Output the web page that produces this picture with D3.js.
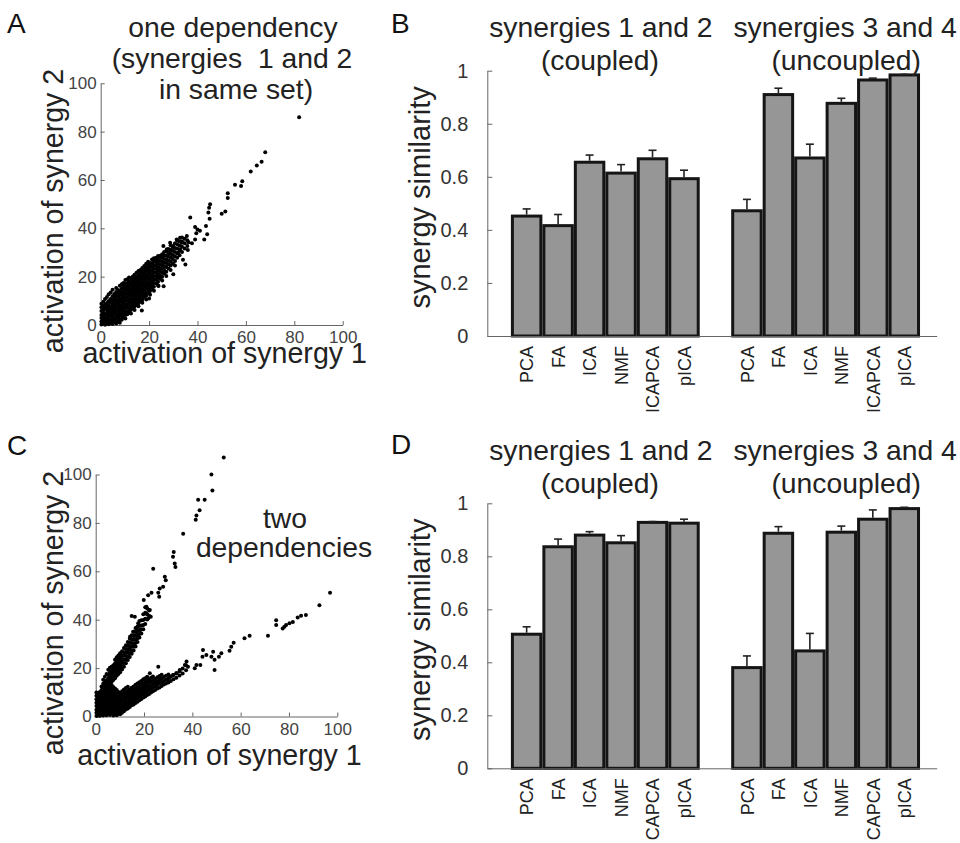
<!DOCTYPE html>
<html>
<head>
<meta charset="utf-8">
<script src="https://cdn.jsdelivr.net/npm/d3@7"></script>
<style>
  body { margin: 0; background: #fff; }
  text { font-family: "Liberation Sans", Arial, Helvetica, sans-serif; }
</style>
</head>
<body>
<svg width="960" height="843"></svg>
<script>
// ---- data ----
const activationTicks = [0, 20, 40, 60, 80, 100];
const similarityTicks = [0, 0.2, 0.4, 0.6, 0.8, 1];

const methodsB = ["PCA", "FA", "ICA", "NMF", "ICAPCA", "pICA", "PCA", "FA", "ICA", "NMF", "ICAPCA", "pICA"];
const methodsD = ["PCA", "FA", "ICA", "NMF", "CAPCA", "pICA", "PCA", "FA", "ICA", "NMF", "CAPCA", "pICA"];
const barSlots = [1, 2, 3, 4, 5, 6, 8, 9, 10, 11, 12, 13];

// panel B: one dependency
const similarityB = [0.452, 0.416, 0.655, 0.614, 0.668, 0.593, 0.472, 0.910, 0.671, 0.877, 0.965, 0.984];
const errorB      = [0.027, 0.042, 0.027, 0.032, 0.032, 0.032, 0.043, 0.024, 0.052, 0.019, 0.007, 0.002];
// panel D: two dependencies
const similarityD = [0.506, 0.836, 0.880, 0.851, 0.928, 0.925, 0.380, 0.887, 0.443, 0.891, 0.940, 0.980];
const errorD      = [0.028, 0.029, 0.013, 0.027, 0.003, 0.015, 0.044, 0.025, 0.066, 0.023, 0.035, 0.005];

// scatter A, dense cloud: each row is [x, y1, y2, ...]
const denseA = [
  [0.3, 0.2, 1.4, 2.9, 4.1, 5.8, 7.3, 8.8],
  [1.1, 0.8, 2.2, 3.6, 5.1, 6.3, 7.9, 9.6],
  [1.8, 0.1, 1.5, 2.7, 4.4, 6.9, 8.4, 10.8],
  [2.6, 0.6, 2.0, 3.3, 4.8, 5.9, 7.4, 9.1, 11.6],
  [3.3, 0.3, 1.2, 2.6, 4.0, 5.5, 6.8, 8.2, 9.9, 12.7],
  [4.1, 0.9, 2.3, 3.8, 5.2, 6.6, 7.7, 9.3, 10.8, 13.4],
  [4.9, 0.4, 1.7, 3.1, 4.6, 6.1, 7.3, 8.7, 10.2, 11.9, 14.6],
  [5.6, 1.1, 2.6, 4.3, 5.6, 7.0, 8.5, 9.8, 11.3, 12.8],
  [6.4, 0.6, 2.0, 3.4, 4.9, 6.3, 7.8, 9.2, 10.6, 12.1, 13.7, 15.3],
  [7.2, 1.5, 3.0, 4.4, 5.9, 7.4, 8.9, 10.1, 11.7, 13.2, 14.5],
  [7.9, 0.9, 2.4, 3.8, 5.3, 6.7, 8.2, 9.7, 11.0, 12.6, 14.0, 16.2],
  [8.7, 2.2, 3.6, 5.0, 6.4, 7.9, 9.4, 10.8, 12.2, 13.6, 15.1, 16.9],
  [9.4, 3.1, 4.6, 6.0, 7.3, 8.8, 10.3, 11.6, 13.0, 14.6, 16.0, 17.4],
  [10.2, 2.7, 4.1, 5.5, 7.0, 8.4, 9.9, 11.2, 12.7, 14.1, 15.5, 17.0, 18.6],
  [11.0, 4.4, 5.8, 7.3, 8.7, 10.1, 11.5, 12.9, 14.4, 15.8, 17.3, 18.9],
  [11.7, 5.2, 6.6, 8.0, 9.5, 10.8, 12.3, 13.8, 15.2, 16.6, 18.1, 19.7],
  [12.5, 4.8, 6.2, 7.7, 9.1, 10.6, 12.0, 13.4, 14.8, 16.3, 17.7, 19.3],
  [13.3, 6.9, 8.3, 9.8, 11.2, 12.6, 14.0, 15.5, 16.9, 18.4, 20.1],
  [14.0, 6.2, 7.7, 9.2, 10.6, 12.1, 13.5, 14.9, 16.4, 17.8, 19.2, 20.8],
  [14.8, 8.4, 9.9, 11.3, 12.8, 14.2, 15.6, 17.1, 18.5, 19.9, 21.6],
  [15.6, 7.8, 9.0, 10.5, 12.0, 13.4, 14.8, 16.3, 17.7, 19.1, 20.6, 22.3],
  [16.4, 9.8, 11.3, 12.7, 14.1, 15.6, 17.0, 18.4, 19.9, 21.3, 22.8],
  [17.2, 9.2, 10.4, 11.9, 13.4, 14.8, 16.3, 17.7, 19.1, 20.6, 22.0, 23.6],
  [18.0, 11.6, 13.0, 14.5, 15.9, 17.3, 18.8, 20.2, 21.6, 23.1, 24.4],
  [18.8, 10.6, 12.1, 13.6, 15.1, 16.5, 17.9, 19.4, 20.8, 22.3, 23.8, 25.3],
  [19.6, 13.2, 14.7, 16.1, 17.5, 19.0, 20.4, 21.9, 23.3, 24.8, 26.2],
  [20.4, 12.5, 14.1, 15.6, 17.0, 18.5, 19.9, 21.4, 22.8, 24.3, 25.7],
  [21.2, 15.0, 16.6, 18.1, 19.6, 21.0, 22.5, 24.0, 25.5, 27.1],
  [22.0, 14.2, 15.8, 17.4, 18.9, 20.3, 21.8, 23.3, 24.7, 26.2, 27.6],
  [22.9, 17.3, 18.8, 20.3, 21.7, 23.2, 24.7, 26.1, 27.8],
  [23.7, 16.3, 17.9, 19.5, 21.0, 22.5, 24.0, 25.4, 26.9, 28.5],
  [24.5, 19.1, 20.6, 22.1, 23.6, 25.1, 26.6, 28.1],
  [25.4, 18.4, 20.0, 21.6, 23.2, 24.7, 26.2, 27.7, 29.3],
  [26.2, 21.3, 22.8, 24.3, 25.8, 27.3, 28.8, 30.2],
  [27.1, 20.3, 22.0, 24.0, 25.6, 27.1, 28.6, 30.4],
  [28.0, 23.4, 25.1, 26.7, 28.3, 29.8, 31.4],
  [28.9, 22.8, 24.6, 26.3, 27.9, 29.5, 31.1, 33.0],
  [29.8, 25.4, 27.3, 29.0, 30.7, 32.3],
  [30.7, 24.6, 26.5, 28.4, 30.2, 31.9, 33.8],
  [31.6, 27.8, 29.7, 31.6, 33.4, 35.1],
  [32.6, 28.9, 31.0, 32.9, 34.6],
  [33.6, 30.2, 32.4, 34.5, 36.2],
  [34.7, 31.6, 33.8, 35.7],
  [35.8, 32.7, 35.1]
];
// scatter A, isolated points
const sparseA = [
  [82, 86], [68, 71.5], [66.5, 67.5], [64.5, 66], [62, 63.5], [58.5, 59.5], [58, 57.5], [55.5, 58],
  [52.5, 54.5], [52.5, 52.5], [51.5, 47], [50, 46], [45.2, 50], [44.8, 48.5], [44.5, 46.5], [45, 44],
  [43.5, 41], [44, 37.5], [42.8, 35.4], [41, 39], [40, 39.5], [39.5, 38], [39, 40.5], [37, 44.5],
  [39, 35.4], [37.7, 33.8], [36.3, 34.2], [35.6, 36.8], [33.5, 34], [32.8, 36.1], [32.8, 31.3],
  [31.4, 35.4], [30, 32.7], [32, 29.9], [28.7, 34], [27.3, 31.3], [28.7, 29.9], [25.9, 32.7],
  [24.6, 28.6], [23.2, 27.2], [34, 27], [36, 31], [20, 11], [23.9, 16.1], [17, 6], [26, 16], [30, 21], [35, 25]
];

// scatter C, dense cloud with its two arms: each row is [x, y1, y2, ...]
const denseC = [
  [0.3, 0.2, 1.5, 2.8, 4.3, 5.7, 7.1, 8.6, 9.9],
  [1.0, 0.7, 2.1, 3.5, 4.9, 6.4, 7.8, 9.2],
  [1.7, 0.3, 1.6, 3.0, 4.4, 5.9, 7.3, 8.7, 10.1],
  [2.4, 0.8, 2.3, 3.7, 5.2, 6.6, 8.0, 9.5, 11.0, 12.4],
  [3.1, 0.4, 1.8, 3.2, 4.7, 6.1, 7.6, 9.0, 10.4, 11.9, 13.5, 15.2],
  [3.8, 1.1, 2.6, 4.0, 5.4, 6.9, 8.3, 9.7, 11.2, 12.6, 14.1, 16.4],
  [4.5, 0.5, 1.9, 3.4, 4.8, 6.2, 7.7, 9.1, 10.6, 12.0, 13.5, 14.9, 17.6],
  [5.2, 1.2, 2.7, 4.1, 5.6, 7.0, 8.4, 9.9, 11.3, 12.8, 14.2, 15.7, 17.1, 19.3],
  [5.9, 0.6, 2.0, 3.5, 4.9, 6.4, 7.8, 9.3, 10.7, 12.2, 13.6, 15.0, 16.5, 18.2, 20.1],
  [6.6, 1.3, 2.8, 4.2, 5.7, 7.1, 8.6, 10.0, 11.4, 13.0, 14.4, 15.9, 17.4, 18.9, 20.6],
  [7.3, 0.4, 1.9, 3.3, 4.8, 6.2, 7.6, 9.1, 10.5, 12.2, 15.1, 16.6, 18.0, 19.5, 21.2],
  [8.0, 1.0, 2.5, 3.9, 5.4, 6.8, 8.3, 9.7, 11.6, 15.8, 17.3, 18.8, 20.2, 21.9, 23.4],
  [8.7, 0.5, 1.9, 3.4, 4.8, 6.3, 7.7, 9.2, 10.9, 16.8, 18.2, 19.7, 21.1, 22.6, 24.5],
  [9.4, 1.2, 2.6, 4.1, 5.5, 7.0, 8.4, 10.1, 17.6, 19.1, 20.5, 22.0, 23.4, 25.2],
  [10.1, 0.9, 2.3, 3.8, 5.2, 6.6, 8.1, 9.6, 18.3, 19.8, 21.3, 22.8, 24.3, 26.1],
  [10.9, 1.6, 3.1, 4.5, 6.0, 7.4, 8.9, 10.4, 19.4, 20.9, 22.4, 23.8, 25.3, 27.0],
  [11.7, 2.2, 3.7, 5.1, 6.6, 8.0, 9.5, 11.2, 20.6, 22.1, 23.6, 25.1, 26.6, 28.3],
  [12.5, 2.9, 4.3, 5.8, 7.2, 8.7, 10.1, 11.8, 22.0, 23.5, 25.0, 26.4, 27.9, 29.4],
  [13.3, 3.3, 4.8, 6.2, 7.7, 9.1, 10.6, 12.3, 23.3, 24.8, 26.3, 27.8, 29.2, 30.8],
  [14.1, 3.9, 5.4, 6.8, 8.3, 9.7, 11.2, 24.6, 26.1, 27.6, 29.0, 30.5, 32.1],
  [14.9, 4.6, 6.0, 7.5, 8.9, 10.4, 11.9, 25.9, 27.4, 28.9, 30.4, 31.9, 33.6],
  [15.7, 5.0, 6.5, 7.9, 9.4, 10.8, 12.4, 27.3, 28.8, 30.3, 31.8, 33.3, 35.0],
  [16.5, 5.6, 7.1, 8.5, 10.0, 11.5, 13.1, 28.9, 30.4, 31.9, 33.4, 34.9, 36.6],
  [17.3, 6.1, 7.6, 9.0, 10.5, 12.0, 13.6, 30.8, 32.3, 33.8, 35.3, 37.2],
  [18.1, 6.7, 8.2, 9.6, 11.1, 12.6, 14.2, 32.6, 34.1, 35.6, 37.4, 39.5],
  [18.9, 7.2, 8.7, 10.1, 11.6, 13.1, 14.7, 34.3, 35.9, 37.6, 39.8],
  [19.7, 7.8, 9.3, 10.8, 12.2, 13.7, 15.4, 36.1, 37.8, 39.9, 42.3],
  [20.5, 8.3, 9.8, 11.3, 12.8, 14.3, 15.8, 38.2, 40.4, 42.9, 45.1],
  [21.3, 8.9, 10.4, 11.9, 13.4, 14.9, 16.4, 40.1, 42.2, 44.6],
  [22.1, 9.3, 10.9, 12.4, 13.9, 15.4, 41.6, 43.8],
  [22.9, 9.9, 11.4, 12.9, 14.4, 16.0],
  [23.7, 10.4, 11.9, 13.4, 15.0, 16.5],
  [24.6, 10.9, 12.5, 14.0, 15.5],
  [25.5, 11.6, 13.1, 14.6, 16.2],
  [26.4, 12.0, 13.6, 15.2, 16.7],
  [27.3, 12.6, 14.2, 15.7, 17.3],
  [28.2, 13.2, 14.7, 16.3],
  [29.1, 13.6, 15.2, 16.8],
  [30.1, 14.1, 15.8, 17.4],
  [31.1, 14.7, 16.4],
  [32.2, 15.4, 17.1],
  [33.4, 16.0, 17.9],
  [34.7, 16.9, 18.7],
  [36.0, 17.8, 19.8],
  [37.4, 19.1, 21.2]
];
// scatter C, isolated points on both arms
const sparseC = [
  [53, 107], [47.9, 100], [48.3, 93.4], [42.4, 89.6], [45.1, 89.6], [43, 85.2], [41.7, 83.1], [41.4, 81.3],
  [36.2, 75.5], [32.3, 68], [32, 66], [32.7, 63.2], [33, 61.8], [23.8, 61.1], [28.6, 57.7], [29, 56.3],
  [27.9, 53.6], [26.5, 52.9], [25.9, 51.1], [23.1, 51.1], [21.7, 50.1], [26.3, 49.5], [19.9, 48.1],
  [21, 45.3], [22.4, 44], [21, 42.6], [22.8, 41.2], [21.7, 40.5], [14.9, 41.5], [16.2, 41.2],
  [17.6, 38.5], [16.9, 36.4], [18.3, 35.7], [15.5, 35], [14.2, 33],
  [97, 51.1], [92.6, 46], [87, 41.9], [85, 41.6], [83.6, 40.9], [81.6, 39.1], [80.2, 38.5], [78.8, 37.8],
  [78.1, 37.1], [77.4, 36.4], [74.7, 39.8], [74.7, 37.8], [71.3, 33.4], [63.7, 33.4], [61.6, 32.3],
  [57.1, 30.5], [56.1, 28.8], [55.4, 27.2], [52, 26.1], [51, 24.7], [48.6, 26.8], [47.9, 24.7],
  [49.2, 23.4], [49.2, 19.2], [44.4, 27.5], [44.2, 24.7], [45.8, 25.4], [43.3, 21.3], [41.7, 21.3],
  [41, 19.9], [38.2, 20.6], [37.6, 22.7], [36.9, 21.3], [34.8, 19.2], [33.4, 17.9], [32, 17.2],
  [30.7, 16.5], [29.6, 15.1], [26.5, 15.1], [25.9, 20.6], [24.5, 13.7], [22.4, 17.9], [21, 15.1],
  [20.4, 12.4], [19, 11], [17.6, 9.6], [16.2, 8.9], [14.2, 7.6], [15.5, 11], [13.5, 10.3], [11.4, 6.9]
];

const unpack = rows => rows.flatMap(([x, ...ys]) => ys.map(y => [x, y]));
const pointsA = unpack(denseA).concat(sparseA);
const pointsC = unpack(denseC).concat(sparseC);

// ---- drawing ----
const svg = d3.select("svg");
const axisColor = "#666";
const tickTextColor = "#444";
const labelColor = "#222";

function styleAxis(g) {
  g.select(".domain").attr("stroke", axisColor);
  g.selectAll(".tick line").attr("stroke", axisColor);
  g.selectAll(".tick text").attr("fill", tickTextColor).attr("font-size", 17);
}

function addText(x, y, str, size, opts = {}) {
  const t = svg.append("text")
    .attr("x", x).attr("y", y)
    .attr("font-size", size)
    .attr("fill", opts.fill || labelColor)
    .attr("text-anchor", opts.anchor || "middle")
    .style("white-space", "pre")
    .text(str);
  if (opts.rotate) t.attr("transform", `rotate(-90,${x},${y})`);
  return t;
}

function scatterPanel(points, xRange, yRange, yLabelY, xLabelY) {
  const x = d3.scaleLinear().domain([0, 100]).range(xRange);
  const y = d3.scaleLinear().domain([0, 100]).range(yRange);

  svg.append("g")
    .attr("transform", `translate(0,${yRange[0]})`)
    .call(d3.axisBottom(x).tickValues(activationTicks).tickSizeInner(-4).tickSizeOuter(0).tickPadding(6))
    .call(styleAxis);
  svg.append("g")
    .attr("transform", `translate(${xRange[0]},0)`)
    .call(d3.axisLeft(y).tickValues(activationTicks).tickSizeInner(-4).tickSizeOuter(0).tickPadding(4))
    .call(styleAxis);

  svg.append("g").selectAll("circle")
    .data(points)
    .join("circle")
    .attr("cx", d => x(d[0]))
    .attr("cy", d => y(d[1]))
    .attr("r", 2)
    .attr("fill", "#000");

  const cx = (xRange[0] + xRange[1]) / 2;
  addText(cx + 3, xLabelY, "activation of synergy 1", 28.6);
  addText(63, yLabelY, "activation of synergy 2", 28.6, { rotate: true });
}

function barPanel(values, errors, labels, yRange, titleY) {
  const x = d3.scaleLinear().domain([-0.25, 14.03]).range([487.3, 936.7]);
  const y = d3.scaleLinear().domain([0, 1]).range(yRange);
  const step = x(1) - x(0);
  const barW = step - 3;
  const bars = barSlots.map((s, i) => ({ slot: s, v: values[i], e: errors[i], label: labels[i] }));

  const g = svg.append("g");
  g.selectAll("rect")
    .data(bars)
    .join("rect")
    .attr("x", d => x(d.slot) - barW / 2)
    .attr("width", barW)
    .attr("y", d => y(d.v))
    .attr("height", d => y(0) - y(d.v))
    .attr("fill", "#969696")
    .attr("stroke", "#151515")
    .attr("stroke-width", 3);

  // upper error bars
  g.selectAll("line.err")
    .data(bars)
    .join("line")
    .attr("class", "err")
    .attr("x1", d => x(d.slot)).attr("x2", d => x(d.slot))
    .attr("y1", d => y(d.v) - 1.5).attr("y2", d => y(d.v + d.e))
    .attr("stroke", "#222").attr("stroke-width", 1.6);
  g.selectAll("line.cap")
    .data(bars)
    .join("line")
    .attr("class", "cap")
    .attr("x1", d => x(d.slot) - 4).attr("x2", d => x(d.slot) + 4)
    .attr("y1", d => y(d.v + d.e)).attr("y2", d => y(d.v + d.e))
    .attr("stroke", "#222").attr("stroke-width", 1.6);

  svg.append("g")
    .attr("transform", `translate(487.3,0)`)
    .call(d3.axisLeft(y).tickValues(similarityTicks).tickFormat(d3.format("~g")).tickSizeInner(-5).tickSizeOuter(0).tickPadding(19))
    .call(styleAxis)
    .call(a => a.selectAll(".tick text").attr("font-size", 20).attr("fill", "#333"));

  svg.append("g")
    .attr("transform", `translate(0,${yRange[0]})`)
    .call(d3.axisBottom(x).tickValues(barSlots).tickSize(0).tickSizeOuter(0)
      .tickFormat((d, i) => labels[i]))
    .call(styleAxis)
    .call(a => a.selectAll(".tick text")
      .attr("font-size", 18)
      .attr("transform", "rotate(-90)")
      .attr("text-anchor", "end")
      .attr("x", -10).attr("y", 0).attr("dy", "0.35em")
      .attr("fill", "#222"));

  addText(430, (yRange[0] + yRange[1]) / 2 - 6, "synergy similarity", 29, { rotate: true });

  addText(x(3.36), titleY, "synergies 1 and 2", 28.3);
  addText(x(3.36) - 1, titleY + 33, "(coupled)", 28.3);
  addText(x(11.12), titleY, "synergies 3 and 4", 28.3);
  addText(x(11.12) + 1, titleY + 33, "(uncoupled)", 28.3);
}

// Panel A
scatterPanel(pointsA, [100.7, 342.7], [325, 83.3], 211, 363);
addText(233, 36.5, "one dependency", 28.3);
addText(232, 67.5, "(synergies  1 and 2", 28.3);
addText(236, 98.5, "in same set)", 28.3);

// Panel C
scatterPanel(pointsC, [95.7, 337.3], [716.5, 474.5], 613, 764.5);
addText(285, 528, "two", 28.3);
addText(284, 557, "dependencies", 28.3);

// Panels B and D
barPanel(similarityB, errorB, methodsB, [336, 70.7], 37);
barPanel(similarityD, errorD, methodsD, [768.3, 503.3], 459.5);

// panel letters
addText(7, 33, "A", 28, { anchor: "start", fill: "#111" });
addText(391, 33, "B", 28, { anchor: "start", fill: "#111" });
addText(7, 455, "C", 28, { anchor: "start", fill: "#111" });
addText(391, 454, "D", 28, { anchor: "start", fill: "#111" });
</script>
</body>
</html>
